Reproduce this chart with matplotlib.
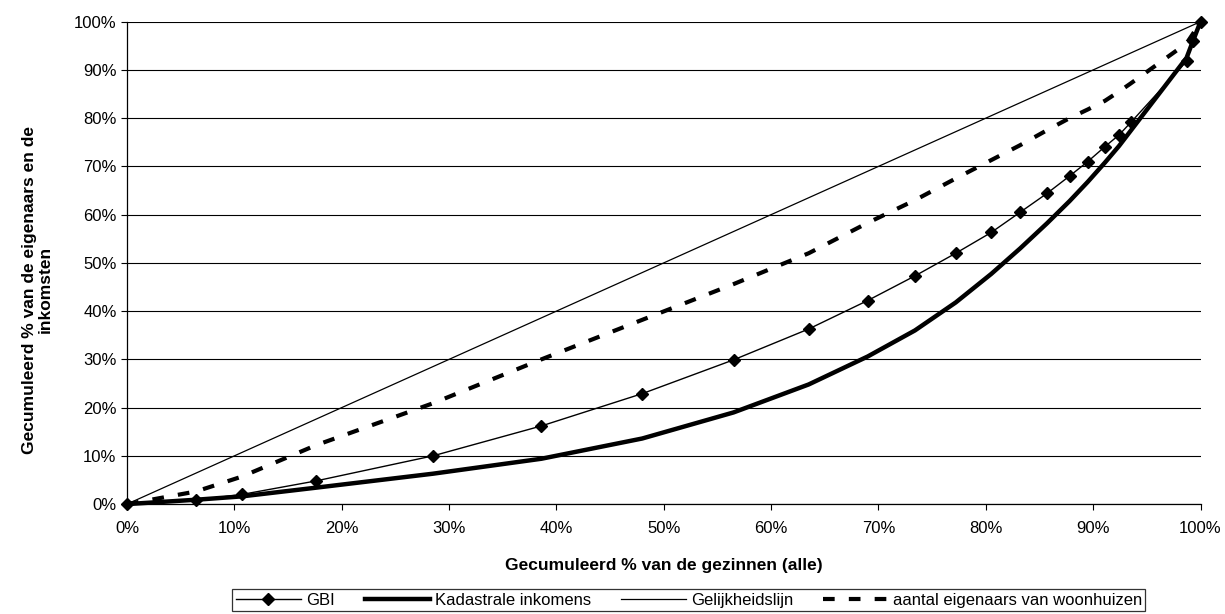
import matplotlib
matplotlib.use("Agg")
import matplotlib.pyplot as plt
from matplotlib.ticker import FuncFormatter

# cumulative % of households (x) and series values (y)
gezinnen = [0, 6.4, 10.7, 17.6, 28.5, 38.6, 48.0, 56.5, 63.5, 69.0, 73.4, 77.2,
            80.5, 83.2, 85.7, 87.8, 89.5, 91.1, 92.4, 93.5, 98.7, 99.3, 100]
gbi = [0, 0.8, 2.0, 4.8, 10.0, 16.2, 22.9, 29.9, 36.3, 42.2, 47.3, 52.0,
       56.3, 60.5, 64.4, 68.0, 71.0, 74.1, 76.5, 79.1, 91.8, 95.9, 100]
kadastraal = [0, 0.9, 1.6, 3.4, 6.3, 9.4, 13.6, 19.0, 24.8, 30.6, 36.0, 41.8,
              47.7, 53.0, 58.2, 62.8, 66.8, 70.8, 74.2, 77.4, 92.5, 96.0, 100]
eigenaars = [0, 2.6, 5.7, 12.2, 20.9, 30.0, 38.2, 45.6, 52.0, 58.3, 63.0, 67.5,
             71.3, 74.4, 77.5, 80.0, 81.8, 83.6, 85.5, 87.2, 95.5, 97.5, 100]
gelijk_x = [0, 100]
gelijk_y = [0, 100]

labels = ["GBI", "Kadastrale inkomens", "Gelijkheidslijn",
          "aantal eigenaars van woonhuizen"]

plt.rcParams["font.family"] = ["Liberation Sans", "DejaVu Sans"]

fig = plt.figure(figsize=(12.25, 6.14), dpi=100)
ax = fig.add_axes([0.1037, 0.179, 0.8763, 0.7857])

ax.plot(gezinnen, gbi, color="black", lw=1.0, marker="D", markersize=6.5,
        clip_on=False, zorder=4, label=labels[0])
ax.plot(gezinnen, kadastraal, color="black", lw=3.2, clip_on=False,
        zorder=3, label=labels[1])
ax.plot(gelijk_x, gelijk_y, color="black", lw=0.9, clip_on=False,
        zorder=3, label=labels[2])
ax.plot(gezinnen, eigenaars, color="black", lw=3.0, dashes=(2.8, 3.4),
        clip_on=False, zorder=3, label=labels[3])

ax.set_xlim(0, 100)
ax.set_ylim(0, 100)
ticks = list(range(0, 101, 10))
ax.set_xticks(ticks)
ax.set_yticks(ticks)
pct = FuncFormatter(lambda v, p: f"{int(v)}%")
ax.xaxis.set_major_formatter(pct)
ax.yaxis.set_major_formatter(pct)
ax.tick_params(labelsize=12, length=4, width=0.8, colors="black")
ax.tick_params(axis="x", pad=8)

ax.yaxis.grid(True, color="black", lw=0.8)
ax.set_axisbelow(True)
for s in ["top", "right"]:
    ax.spines[s].set_visible(False)
ax.spines["left"].set_linewidth(0.9)
ax.spines["bottom"].set_linewidth(0.9)

ax.set_xlabel("Gecumuleerd % van de gezinnen (alle)", fontsize=12.5,
              fontweight="bold", labelpad=16)
ax.set_ylabel("Gecumuleerd % van de eigenaars en de\ninkomsten", fontsize=12.5,
              fontweight="bold", linespacing=1.05)
ax.yaxis.set_label_coords(-0.069, 0.444)

leg = ax.legend(loc="center", bbox_to_anchor=(0.5624, 0.0228),
                bbox_transform=fig.transFigure, ncol=4, fontsize=12,
                frameon=True, fancybox=False, edgecolor="black",
                handlelength=3.9, handletextpad=0.3, columnspacing=1.8,
                borderpad=0.2, borderaxespad=0)
leg.get_frame().set_linewidth(0.9)

fig.savefig("out.png", dpi=100)
